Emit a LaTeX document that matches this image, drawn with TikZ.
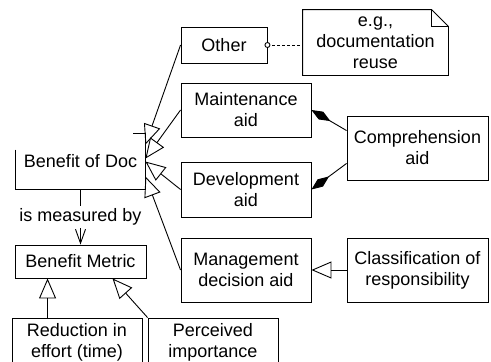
\documentclass[tikz,border=0pt]{standalone}
\usepackage{fontspec}
\setmainfont{Liberation Sans}
\usetikzlibrary{arrows.meta, calc}

\tikzset{
  box/.style={draw, line width=0.9pt, inner sep=0pt, align=center,
    minimum width=130, minimum height=55, font=\fontsize{18}{21}\selectfont},
  gen/.style={line width=0.9pt, -{Triangle[open, length=20pt, width=17pt]}},
  comp/.style={line width=0.9pt, -{Diamond[length=22pt, width=9pt]}},
  measured/.style={line width=0.9pt, -{Straight Barb[length=14pt, width=10pt]}}
}

\begin{document}
\begin{tikzpicture}[x=1pt, y=-1pt]
\useasboundingbox (0, 0) rectangle (491, 362);
\clip (0, 0) rectangle (491, 362);
%Boxes
\node [box, draw=none, minimum width=129] (doc) at (80.5, 161.5) {Benefit of Doc};
\draw [line width=0.9pt] ($(doc.north west)+(0, 16)$) -- (doc.south west) -- (doc.south east) -- (doc.north east) -- ($(doc.north east)+(-12, 0)$);
\node [box, minimum width=86, minimum height=36] (oth) at (224, 45) {Other};
\node [box, minimum height=54] (mnt) at (246, 110) {Maintenance\\aid};
\node [box] (dev) at (246, 189.5) {Development\\aid};
\node [box, minimum height=64] (mgt) at (246, 270) {Management\\decision aid};
\node [box, minimum width=141, minimum height=64] (cmp) at (417.5, 148) {Comprehension\\aid};
\node [box, minimum width=141, minimum height=64] (cls) at (417.5, 270) {Classification of\\responsibility};
\node [box, minimum width=131, minimum height=33] (met) at (80.5, 261.5) {Benefit Metric};
\node [box, minimum height=48] (red) at (77, 342) {Reduction in\\effort (time)};
\node [box, minimum height=48] (per) at (213, 342) {Perceived\\importance};
% note with folded corner
\node [box, draw=none, minimum width=145, minimum height=65] (note) at (375.5, 42.5) {e.g.,\\documentation\\reuse};
\draw [line width=0.9pt] (note.north west) -- ($(note.north east)+(-17, 0)$) -- ($(note.north east)+(0, 17)$) -- (note.south east) -- (note.south west) -- cycle;
\draw [line width=0.9pt] ($(note.north east)+(-17, 0)$) -- ($(note.north east)+(-17, 17)$) -- ($(note.north east)+(0, 17)$);
%Links
\draw [gen] (oth.west) -- ($(doc.north east)+(0, 11)$);
\draw [gen] (mnt.west) -- ($(doc.north east)+(0, 25)$);
\draw [gen] (dev.west) -- ($(doc.north east)+(0, 28)$);
\draw [gen] (mgt.west) -- ($(doc.north east)+(0, 43)$);
\draw [comp] ($(cmp.north west)+(0, 15)$) -- (mnt.east);
\draw [comp] ($(cmp.south west)+(0, -17)$) -- (dev.east);
\draw [gen] (cls.west) -- (mgt.east);
\draw [line width=0.9pt, dash pattern=on 3pt off 2pt] (oth.east) -- (oth.east -| note.west);
\draw [line width=0.9pt, fill=white] (oth.east) circle [radius=2.5];
\draw [measured] (doc.south) -- node [fill=white, inner xsep=1pt, inner ysep=3pt, font=\fontsize{18}{21}\selectfont] (meas) {is measured by} (met.north);
\draw [gen] ($(red.north west)+(36, 0)$) -- ($(met.south west)+(33, 0)$);
\draw [gen] (per.north west) -- ($(met.south west)+(98, 0)$);
\end{tikzpicture}
\end{document}
